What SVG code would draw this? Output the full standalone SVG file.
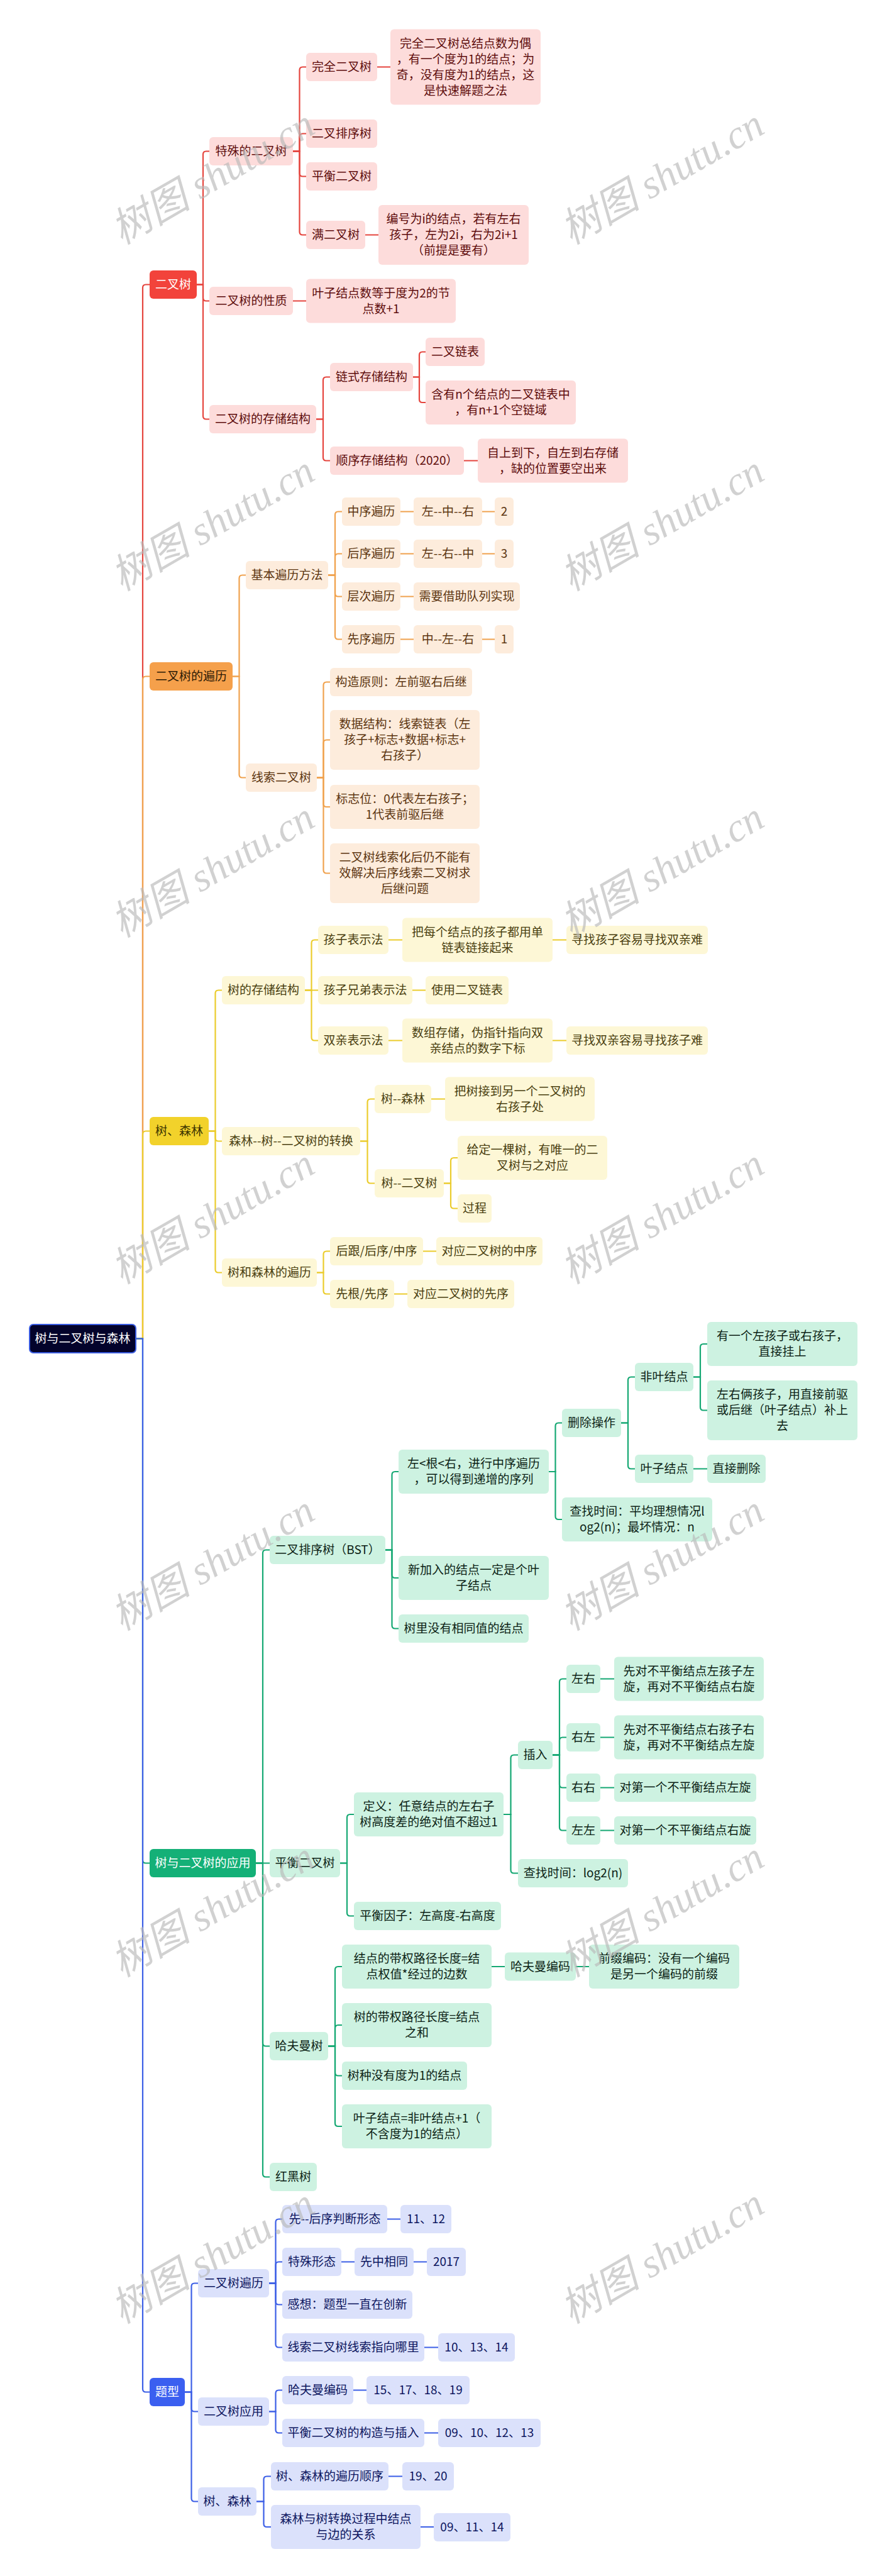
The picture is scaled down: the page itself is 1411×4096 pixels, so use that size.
<svg xmlns="http://www.w3.org/2000/svg" width="1411" height="4096" viewBox="0 0 1411 4096">
<style>
text{font-family:"Noto Sans CJK SC","Liberation Sans",sans-serif;font-size:19px;text-anchor:middle}
.c path{fill:none;stroke-width:2.2;stroke-linecap:round}
.cr path{stroke:#e5453e}.co path{stroke:#f0a24e}.cy path{stroke:#ebcc2c}.cg path{stroke:#15a873}.cb path{stroke:#3c5fe6}
.root rect{fill:#03032b;stroke:#3a5ce0;stroke-width:2}.root text{fill:#fff}
.r1 rect{fill:#f2433b}.r1 text{fill:#fff}
.r2 rect{fill:#fddcdb}.r2 text{fill:#5e0c0c}
.o1 rect{fill:#f5a04b}.o1 text{fill:#2b1a05}
.o2 rect{fill:#fdecdc}.o2 text{fill:#5c3510}
.y1 rect{fill:#f2d22b}.y1 text{fill:#3a3200}
.y2 rect{fill:#fdf7d6}.y2 text{fill:#4a4010}
.g1 rect{fill:#14b077}.g1 text{fill:#fff}
.g2 rect{fill:#cdf2e1}.g2 text{fill:#0c1f15}
.b1 rect{fill:#3b5ff0}.b1 text{fill:#fff}
.b2 rect{fill:#dbe1fb}.b2 text{fill:#0d1660}
.wm{font-family:"Liberation Serif","Noto Sans CJK SC",serif;font-style:italic;font-size:64px;fill:#b8b8b8;fill-opacity:0.65}
</style>
<rect width="1411" height="4096" fill="#fff"/>
<g id="connectors" class="c">
<g class="cr">
<path d="M216,2128.5H227V457.5Q227,452.5 232,452.5H238"/>
<path d="M313,452.5H323V245.5Q323,240.5 328,240.5H333"/>
<path d="M313,452.5H323V473.5Q323,478.5 328,478.5H333"/>
<path d="M313,452.5H323V661.5Q323,666.5 328,666.5H333"/>
<path d="M466,240.5H476.5V111.5Q476.5,106.5 481.5,106.5H487"/>
<path d="M466,240.5H476.5V217.5Q476.5,212.5 481.5,212.5H487"/>
<path d="M466,240.5H476.5V275.5Q476.5,280.5 481.5,280.5H487"/>
<path d="M466,240.5H476.5V368.5Q476.5,373.5 481.5,373.5H487"/>
<path d="M600,106.5H621"/>
<path d="M581,373.5H602"/>
<path d="M466,478.5H487"/>
<path d="M503,666.5H514V604.5Q514,599.5 519,599.5H525"/>
<path d="M503,666.5H514V727.5Q514,732.5 519,732.5H525"/>
<path d="M657,599.5H667V564.5Q667,559.5 672,559.5H677"/>
<path d="M657,599.5H667V635Q667,640 672,640H677"/>
<path d="M738,732.5H760"/>
</g>
<g class="co">
<path d="M216,2128.5H227V1080.5Q227,1075.5 232,1075.5H238"/>
<path d="M370,1075.5H380.5V919.5Q380.5,914.5 385.5,914.5H391"/>
<path d="M370,1075.5H380.5V1231.5Q380.5,1236.5 385.5,1236.5H391"/>
<path d="M522,914.5H533V818.5Q533,813.5 538,813.5H544"/>
<path d="M522,914.5H533V885.5Q533,880.5 538,880.5H544"/>
<path d="M522,914.5H533V943.5Q533,948.5 538,948.5H544"/>
<path d="M522,914.5H533V1011.5Q533,1016.5 538,1016.5H544"/>
<path d="M637,813.5H658M767,813.5H787"/>
<path d="M637,880.5H658M767,880.5H787"/>
<path d="M637,948.5H658"/>
<path d="M637,1016.5H658M767,1016.5H787"/>
<path d="M504,1236.5H514.5V1089.5Q514.5,1084.5 519.5,1084.5H525"/>
<path d="M504,1236.5H514.5V1181.5Q514.5,1176.5 519.5,1176.5H525"/>
<path d="M504,1236.5H514.5V1278Q514.5,1283 519.5,1283H525"/>
<path d="M504,1236.5H514.5V1383.5Q514.5,1388.5 519.5,1388.5H525"/>
</g>
<g class="cy">
<path d="M216,2128.5H227V1803.5Q227,1798.5 232,1798.5H238"/>
<path d="M332,1798.5H342.5V1579.5Q342.5,1574.5 347.5,1574.5H353"/>
<path d="M332,1798.5H342.5V1809.5Q342.5,1814.5 347.5,1814.5H353"/>
<path d="M332,1798.5H342.5V2018.5Q342.5,2023.5 347.5,2023.5H353"/>
<path d="M485,1574.5H495.5V1499.5Q495.5,1494.5 500.5,1494.5H506"/>
<path d="M485,1574.5H506"/>
<path d="M485,1574.5H495.5V1649.5Q495.5,1654.5 500.5,1654.5H506"/>
<path d="M618,1494.5H640M879,1494.5H901"/>
<path d="M656,1574.5H677"/>
<path d="M618,1654.5H640M879,1654.5H901"/>
<path d="M573,1814.5H584.5V1752.5Q584.5,1747.5 589.5,1747.5H596"/>
<path d="M573,1814.5H584.5V1876.5Q584.5,1881.5 589.5,1881.5H596"/>
<path d="M686,1747.5H708"/>
<path d="M706,1881.5H717V1846Q717,1841 722,1841H728"/>
<path d="M706,1881.5H717V1916.5Q717,1921.5 722,1921.5H728"/>
<path d="M504,2023.5H514.5V1994.5Q514.5,1989.5 519.5,1989.5H525"/>
<path d="M504,2023.5H514.5V2052.5Q514.5,2057.5 519.5,2057.5H525"/>
<path d="M673,1989.5H694"/>
<path d="M627,2057.5H648"/>
</g>
<g class="cg">
<path d="M216,2128.5H227V2957.5Q227,2962.5 232,2962.5H238"/>
<path d="M407,2962.5H418V2469.5Q418,2464.5 423,2464.5H429"/>
<path d="M407,2962.5H429"/>
<path d="M407,2962.5H418V3248.5Q418,3253.5 423,3253.5H429"/>
<path d="M407,2962.5H418V3456.5Q418,3461.5 423,3461.5H429"/>
<path d="M613,2464.5H623.5V2345Q623.5,2340 628.5,2340H634"/>
<path d="M613,2464.5H623.5V2504Q623.5,2509 628.5,2509H634"/>
<path d="M613,2464.5H623.5V2584.5Q623.5,2589.5 628.5,2589.5H634"/>
<path d="M873,2340H883.5V2267.5Q883.5,2262.5 888.5,2262.5H894"/>
<path d="M873,2340H883.5V2411Q883.5,2416 888.5,2416H894"/>
<path d="M988,2262.5H999V2194.5Q999,2189.5 1004,2189.5H1010"/>
<path d="M988,2262.5H999V2330.5Q999,2335.5 1004,2335.5H1010"/>
<path d="M1103,2189.5H1114V2142Q1114,2137 1119,2137H1125"/>
<path d="M1103,2189.5H1114V2237.5Q1114,2242.5 1119,2242.5H1125"/>
<path d="M1103,2335.5H1125"/>
<path d="M541,2962.5H552V2890Q552,2885 557,2885H563"/>
<path d="M541,2962.5H552V3041.5Q552,3046.5 557,3046.5H563"/>
<path d="M801,2885H812.5V2795.5Q812.5,2790.5 817.5,2790.5H824"/>
<path d="M801,2885H812.5V2973.5Q812.5,2978.5 817.5,2978.5H824"/>
<path d="M879,2790.5H890V2674.5Q890,2669.5 895,2669.5H901"/>
<path d="M879,2790.5H890V2767.5Q890,2762.5 895,2762.5H901"/>
<path d="M879,2790.5H890V2837.5Q890,2842.5 895,2842.5H901"/>
<path d="M879,2790.5H890V2905.5Q890,2910.5 895,2910.5H901"/>
<path d="M955,2669.5H977M955,2762.5H977M955,2842.5H977M955,2910.5H977"/>
<path d="M522,3253.5H533V3132Q533,3127 538,3127H544"/>
<path d="M522,3253.5H533V3225Q533,3220 538,3220H544"/>
<path d="M522,3253.5H533V3295.5Q533,3300.5 538,3300.5H544"/>
<path d="M522,3253.5H533V3376Q533,3381 538,3381H544"/>
<path d="M782,3127H803M916,3127H937"/>
</g>
<g class="cb">
<path d="M216,2128.5H227V3798.5Q227,3803.5 232,3803.5H238"/>
<path d="M294,3803.5H304.5V3635.5Q304.5,3630.5 309.5,3630.5H315"/>
<path d="M294,3803.5H304.5V3829.5Q304.5,3834.5 309.5,3834.5H315"/>
<path d="M294,3803.5H304.5V3972.5Q304.5,3977.5 309.5,3977.5H315"/>
<path d="M428,3630.5H438.5V3533.5Q438.5,3528.5 443.5,3528.5H449"/>
<path d="M428,3630.5H438.5V3601.5Q438.5,3596.5 443.5,3596.5H449"/>
<path d="M428,3630.5H438.5V3659.5Q438.5,3664.5 443.5,3664.5H449"/>
<path d="M428,3630.5H438.5V3727.5Q438.5,3732.5 443.5,3732.5H449"/>
<path d="M616,3528.5H637"/>
<path d="M543,3596.5H564M658,3596.5H679"/>
<path d="M675,3732.5H697"/>
<path d="M428,3834.5H438.5V3805.5Q438.5,3800.5 443.5,3800.5H449"/>
<path d="M428,3834.5H438.5V3863.5Q438.5,3868.5 443.5,3868.5H449"/>
<path d="M562,3800.5H583"/>
<path d="M675,3868.5H697"/>
<path d="M408,3977.5H419.5V3942.5Q419.5,3937.5 424.5,3937.5H431"/>
<path d="M408,3977.5H419.5V4013Q419.5,4018 424.5,4018H431"/>
<path d="M618,3937.5H640"/>
<path d="M669,4018H690"/>
</g>
</g>

<g id="root" class="root"><rect x="47" y="2106" width="169" height="45" rx="6"/><text x="131.5" y="2135">树与二叉树与森林</text></g>

<g id="n-bt" class="r1"><rect x="238" y="430" width="75" height="45" rx="6"/><text x="275.5" y="459">二叉树</text></g>
<g id="n-special" class="r2"><rect x="333" y="218" width="133" height="45" rx="6"/><text x="399.5" y="247">特殊的二叉树</text></g>
<g id="n-complete" class="r2"><rect x="487" y="84" width="113" height="45" rx="6"/><text x="543.5" y="113">完全二叉树</text></g>
<g id="n-complete-note" class="r2"><rect x="621" y="46.5" width="239" height="120" rx="6"/><text x="740.5"><tspan x="740.5" y="75.5">完全二叉树总结点数为偶</tspan><tspan x="740.5" y="100.5">，有一个度为1的结点；为</tspan><tspan x="740.5" y="125.5">奇，没有度为1的结点，这</tspan><tspan x="740.5" y="150.5">是快速解题之法</tspan></text></g>
<g id="n-bst0" class="r2"><rect x="487" y="190" width="113" height="45" rx="6"/><text x="543.5" y="219">二叉排序树</text></g>
<g id="n-avl0" class="r2"><rect x="487" y="258" width="113" height="45" rx="6"/><text x="543.5" y="287">平衡二叉树</text></g>
<g id="n-full" class="r2"><rect x="487" y="351" width="94" height="45" rx="6"/><text x="534" y="380">满二叉树</text></g>
<g id="n-full-note" class="r2"><rect x="602" y="326" width="239" height="95" rx="6"/><text x="721.5"><tspan x="721.5" y="355">编号为i的结点，若有左右</tspan><tspan x="721.5" y="380">孩子，左为2i，右为2i+1</tspan><tspan x="721.5" y="405">（前提是要有）</tspan></text></g>
<g id="n-prop" class="r2"><rect x="333" y="456" width="133" height="45" rx="6"/><text x="399.5" y="485">二叉树的性质</text></g>
<g id="n-prop-note" class="r2"><rect x="487" y="443.5" width="238" height="70" rx="6"/><text x="606"><tspan x="606" y="472.5">叶子结点数等于度为2的节</tspan><tspan x="606" y="497.5">点数+1</tspan></text></g>
<g id="n-store" class="r2"><rect x="333" y="644" width="170" height="45" rx="6"/><text x="418" y="673">二叉树的存储结构</text></g>
<g id="n-linked" class="r2"><rect x="525" y="577" width="132" height="45" rx="6"/><text x="591" y="606">链式存储结构</text></g>
<g id="n-bll" class="r2"><rect x="677" y="537" width="94" height="45" rx="6"/><text x="724" y="566">二叉链表</text></g>
<g id="n-nplus1" class="r2"><rect x="677" y="605" width="239" height="70" rx="6"/><text x="796.5"><tspan x="796.5" y="634">含有n个结点的二叉链表中</tspan><tspan x="796.5" y="659">，有n+1个空链域</tspan></text></g>
<g id="n-seq" class="r2"><rect x="525" y="710" width="213" height="45" rx="6"/><text x="631.5" y="739">顺序存储结构（2020）</text></g>
<g id="n-seq-note" class="r2"><rect x="760" y="697.5" width="239" height="70" rx="6"/><text x="879.5"><tspan x="879.5" y="726.5">自上到下，自左到右存储</tspan><tspan x="879.5" y="751.5">，缺的位置要空出来</tspan></text></g>

<g id="n-trav" class="o1"><rect x="238" y="1053" width="132" height="45" rx="6"/><text x="304" y="1082">二叉树的遍历</text></g>
<g id="n-basic" class="o2"><rect x="391" y="892" width="131" height="45" rx="6"/><text x="456.5" y="921">基本遍历方法</text></g>
<g id="n-in" class="o2"><rect x="544" y="791" width="93" height="45" rx="6"/><text x="590.5" y="820">中序遍历</text></g>
<g id="n-in-o" class="o2"><rect x="658" y="791" width="109" height="45" rx="6"/><text x="712.5" y="820">左--中--右</text></g>
<g id="n-in-n" class="o2"><rect x="787" y="791" width="30" height="45" rx="6"/><text x="802" y="820">2</text></g>
<g id="n-post" class="o2"><rect x="544" y="858" width="93" height="45" rx="6"/><text x="590.5" y="887">后序遍历</text></g>
<g id="n-post-o" class="o2"><rect x="658" y="858" width="109" height="45" rx="6"/><text x="712.5" y="887">左--右--中</text></g>
<g id="n-post-n" class="o2"><rect x="787" y="858" width="30" height="45" rx="6"/><text x="802" y="887">3</text></g>
<g id="n-level" class="o2"><rect x="544" y="926" width="93" height="45" rx="6"/><text x="590.5" y="955">层次遍历</text></g>
<g id="n-level-o" class="o2"><rect x="658" y="926" width="169" height="45" rx="6"/><text x="742.5" y="955">需要借助队列实现</text></g>
<g id="n-pre" class="o2"><rect x="544" y="994" width="93" height="45" rx="6"/><text x="590.5" y="1023">先序遍历</text></g>
<g id="n-pre-o" class="o2"><rect x="658" y="994" width="109" height="45" rx="6"/><text x="712.5" y="1023">中--左--右</text></g>
<g id="n-pre-n" class="o2"><rect x="787" y="994" width="30" height="45" rx="6"/><text x="802" y="1023">1</text></g>
<g id="n-thread" class="o2"><rect x="391" y="1214" width="113" height="45" rx="6"/><text x="447.5" y="1243">线索二叉树</text></g>
<g id="n-th1" class="o2"><rect x="525" y="1062" width="226" height="45" rx="6"/><text x="638" y="1091">构造原则：左前驱右后继</text></g>
<g id="n-th2" class="o2"><rect x="525" y="1129" width="238" height="95" rx="6"/><text x="644"><tspan x="644" y="1158">数据结构：线索链表（左</tspan><tspan x="644" y="1183">孩子+标志+数据+标志+</tspan><tspan x="644" y="1208">右孩子）</tspan></text></g>
<g id="n-th3" class="o2"><rect x="525" y="1248" width="238" height="70" rx="6"/><text x="644"><tspan x="644" y="1277">标志位：0代表左右孩子；</tspan><tspan x="644" y="1302">1代表前驱后继</tspan></text></g>
<g id="n-th4" class="o2"><rect x="525" y="1341" width="238" height="95" rx="6"/><text x="644"><tspan x="644" y="1370">二叉树线索化后仍不能有</tspan><tspan x="644" y="1395">效解决后序线索二叉树求</tspan><tspan x="644" y="1420">后继问题</tspan></text></g>

<g id="n-forest" class="y1"><rect x="238" y="1776" width="94" height="45" rx="6"/><text x="285" y="1805">树、森林</text></g>
<g id="n-tstore" class="y2"><rect x="353" y="1552" width="132" height="45" rx="6"/><text x="419" y="1581">树的存储结构</text></g>
<g id="n-child" class="y2"><rect x="506" y="1472" width="112" height="45" rx="6"/><text x="562" y="1501">孩子表示法</text></g>
<g id="n-child-d" class="y2"><rect x="640" y="1459.5" width="239" height="70" rx="6"/><text x="759.5"><tspan x="759.5" y="1488.5">把每个结点的孩子都用单</tspan><tspan x="759.5" y="1513.5">链表链接起来</tspan></text></g>
<g id="n-child-e" class="y2"><rect x="901" y="1472" width="225" height="45" rx="6"/><text x="1013.5" y="1501">寻找孩子容易寻找双亲难</text></g>
<g id="n-cs" class="y2"><rect x="506" y="1552" width="150" height="45" rx="6"/><text x="581" y="1581">孩子兄弟表示法</text></g>
<g id="n-cs-d" class="y2"><rect x="677" y="1552" width="132" height="45" rx="6"/><text x="743" y="1581">使用二叉链表</text></g>
<g id="n-par" class="y2"><rect x="506" y="1632" width="112" height="45" rx="6"/><text x="562" y="1661">双亲表示法</text></g>
<g id="n-par-d" class="y2"><rect x="640" y="1619.5" width="239" height="70" rx="6"/><text x="759.5"><tspan x="759.5" y="1648.5">数组存储，伪指针指向双</tspan><tspan x="759.5" y="1673.5">亲结点的数字下标</tspan></text></g>
<g id="n-par-e" class="y2"><rect x="901" y="1632" width="225" height="45" rx="6"/><text x="1013.5" y="1661">寻找双亲容易寻找孩子难</text></g>
<g id="n-conv" class="y2"><rect x="353" y="1792" width="220" height="45" rx="6"/><text x="463" y="1821">森林--树--二叉树的转换</text></g>
<g id="n-t2f" class="y2"><rect x="596" y="1725" width="90" height="45" rx="6"/><text x="641" y="1754">树--森林</text></g>
<g id="n-t2f-d" class="y2"><rect x="708" y="1712.5" width="238" height="70" rx="6"/><text x="827"><tspan x="827" y="1741.5">把树接到另一个二叉树的</tspan><tspan x="827" y="1766.5">右孩子处</tspan></text></g>
<g id="n-t2b" class="y2"><rect x="596" y="1859" width="110" height="45" rx="6"/><text x="651" y="1888">树--二叉树</text></g>
<g id="n-t2b-d" class="y2"><rect x="728" y="1806" width="238" height="70" rx="6"/><text x="847"><tspan x="847" y="1835">给定一棵树，有唯一的二</tspan><tspan x="847" y="1860">叉树与之对应</tspan></text></g>
<g id="n-t2b-p" class="y2"><rect x="728" y="1899" width="54" height="45" rx="6"/><text x="755" y="1928">过程</text></g>
<g id="n-ftrav" class="y2"><rect x="353" y="2001" width="151" height="45" rx="6"/><text x="428.5" y="2030">树和森林的遍历</text></g>
<g id="n-ft1" class="y2"><rect x="525" y="1967" width="148" height="45" rx="6"/><text x="599" y="1996">后跟/后序/中序</text></g>
<g id="n-ft1-d" class="y2"><rect x="694" y="1967" width="169" height="45" rx="6"/><text x="778.5" y="1996">对应二叉树的中序</text></g>
<g id="n-ft2" class="y2"><rect x="525" y="2035" width="102" height="45" rx="6"/><text x="576" y="2064">先根/先序</text></g>
<g id="n-ft2-d" class="y2"><rect x="648" y="2035" width="170" height="45" rx="6"/><text x="733" y="2064">对应二叉树的先序</text></g>

<g id="n-app" class="g1"><rect x="238" y="2940" width="169" height="45" rx="6"/><text x="322.5" y="2969">树与二叉树的应用</text></g>
<g id="n-bst" class="g2"><rect x="429" y="2442" width="184" height="45" rx="6"/><text x="521" y="2471">二叉排序树（BST）</text></g>
<g id="n-bst1" class="g2"><rect x="634" y="2305" width="239" height="70" rx="6"/><text x="753.5"><tspan x="753.5" y="2334">左&lt;根&lt;右，进行中序遍历</tspan><tspan x="753.5" y="2359">，可以得到递增的序列</tspan></text></g>
<g id="n-del" class="g2"><rect x="894" y="2240" width="94" height="45" rx="6"/><text x="941" y="2269">删除操作</text></g>
<g id="n-nonleaf" class="g2"><rect x="1010" y="2167" width="93" height="45" rx="6"/><text x="1056.5" y="2196">非叶结点</text></g>
<g id="n-nl1" class="g2"><rect x="1125" y="2102" width="239" height="70" rx="6"/><text x="1244.5"><tspan x="1244.5" y="2131">有一个左孩子或右孩子，</tspan><tspan x="1244.5" y="2156">直接挂上</tspan></text></g>
<g id="n-nl2" class="g2"><rect x="1125" y="2195" width="239" height="95" rx="6"/><text x="1244.5"><tspan x="1244.5" y="2224">左右俩孩子，用直接前驱</tspan><tspan x="1244.5" y="2249">或后继（叶子结点）补上</tspan><tspan x="1244.5" y="2274">去</tspan></text></g>
<g id="n-leaf" class="g2"><rect x="1010" y="2313" width="93" height="45" rx="6"/><text x="1056.5" y="2342">叶子结点</text></g>
<g id="n-leaf1" class="g2"><rect x="1125" y="2313" width="93" height="45" rx="6"/><text x="1171.5" y="2342">直接删除</text></g>
<g id="n-find" class="g2"><rect x="894" y="2381" width="239" height="70" rx="6"/><text x="1013.5"><tspan x="1013.5" y="2410">查找时间：平均理想情况l</tspan><tspan x="1013.5" y="2435">og2(n)；最坏情况：n</tspan></text></g>
<g id="n-bst2" class="g2"><rect x="634" y="2474" width="239" height="70" rx="6"/><text x="753.5"><tspan x="753.5" y="2503">新加入的结点一定是个叶</tspan><tspan x="753.5" y="2528">子结点</tspan></text></g>
<g id="n-bst3" class="g2"><rect x="634" y="2567" width="207" height="45" rx="6"/><text x="737.5" y="2596">树里没有相同值的结点</text></g>
<g id="n-avl" class="g2"><rect x="429" y="2940" width="112" height="45" rx="6"/><text x="485" y="2969">平衡二叉树</text></g>
<g id="n-avl-def" class="g2"><rect x="563" y="2850" width="238" height="70" rx="6"/><text x="682"><tspan x="682" y="2879">定义：任意结点的左右子</tspan><tspan x="682" y="2904">树高度差的绝对值不超过1</tspan></text></g>
<g id="n-ins" class="g2"><rect x="824" y="2768" width="55" height="45" rx="6"/><text x="851.5" y="2797">插入</text></g>
<g id="n-lr" class="g2"><rect x="901" y="2647" width="54" height="45" rx="6"/><text x="928" y="2676">左右</text></g>
<g id="n-lr-d" class="g2"><rect x="977" y="2634.5" width="238" height="70" rx="6"/><text x="1096"><tspan x="1096" y="2663.5">先对不平衡结点左孩子左</tspan><tspan x="1096" y="2688.5">旋，再对不平衡结点右旋</tspan></text></g>
<g id="n-rl" class="g2"><rect x="901" y="2740" width="54" height="45" rx="6"/><text x="928" y="2769">右左</text></g>
<g id="n-rl-d" class="g2"><rect x="977" y="2727.5" width="238" height="70" rx="6"/><text x="1096"><tspan x="1096" y="2756.5">先对不平衡结点右孩子右</tspan><tspan x="1096" y="2781.5">旋，再对不平衡结点左旋</tspan></text></g>
<g id="n-rr" class="g2"><rect x="901" y="2820" width="54" height="45" rx="6"/><text x="928" y="2849">右右</text></g>
<g id="n-rr-d" class="g2"><rect x="977" y="2820" width="226" height="45" rx="6"/><text x="1090" y="2849">对第一个不平衡结点左旋</text></g>
<g id="n-ll" class="g2"><rect x="901" y="2888" width="54" height="45" rx="6"/><text x="928" y="2917">左左</text></g>
<g id="n-ll-d" class="g2"><rect x="977" y="2888" width="226" height="45" rx="6"/><text x="1090" y="2917">对第一个不平衡结点右旋</text></g>
<g id="n-avl-find" class="g2"><rect x="824" y="2956" width="175" height="45" rx="6"/><text x="911.5" y="2985">查找时间：log2(n)</text></g>
<g id="n-avl-bf" class="g2"><rect x="563" y="3024" width="234" height="45" rx="6"/><text x="680" y="3053">平衡因子：左高度-右高度</text></g>
<g id="n-huff" class="g2"><rect x="429" y="3231" width="93" height="45" rx="6"/><text x="475.5" y="3260">哈夫曼树</text></g>
<g id="n-h1" class="g2"><rect x="544" y="3092" width="238" height="70" rx="6"/><text x="663"><tspan x="663" y="3121">结点的带权路径长度=结</tspan><tspan x="663" y="3146">点权值*经过的边数</tspan></text></g>
<g id="n-hcode" class="g2"><rect x="803" y="3104.5" width="113" height="45" rx="6"/><text x="859.5" y="3133.5">哈夫曼编码</text></g>
<g id="n-hcode-d" class="g2"><rect x="937" y="3092" width="239" height="70" rx="6"/><text x="1056.5"><tspan x="1056.5" y="3121">前缀编码：没有一个编码</tspan><tspan x="1056.5" y="3146">是另一个编码的前缀</tspan></text></g>
<g id="n-h2" class="g2"><rect x="544" y="3185" width="238" height="70" rx="6"/><text x="663"><tspan x="663" y="3214">树的带权路径长度=结点</tspan><tspan x="663" y="3239">之和</tspan></text></g>
<g id="n-h3" class="g2"><rect x="544" y="3278" width="199" height="45" rx="6"/><text x="643.5" y="3307">树种没有度为1的结点</text></g>
<g id="n-h4" class="g2"><rect x="544" y="3346" width="238" height="70" rx="6"/><text x="663"><tspan x="663" y="3375">叶子结点=非叶结点+1（</tspan><tspan x="663" y="3400">不含度为1的结点）</tspan></text></g>
<g id="n-rb" class="g2"><rect x="429" y="3439" width="75" height="45" rx="6"/><text x="466.5" y="3468">红黑树</text></g>

<g id="n-q" class="b1"><rect x="238" y="3781" width="56" height="45" rx="6"/><text x="266" y="3810">题型</text></g>
<g id="n-q1" class="b2"><rect x="315" y="3608" width="113" height="45" rx="6"/><text x="371.5" y="3637">二叉树遍历</text></g>
<g id="n-q11" class="b2"><rect x="449" y="3506" width="167" height="45" rx="6"/><text x="532.5" y="3535">先--后序判断形态</text></g>
<g id="n-q11n" class="b2"><rect x="637" y="3506" width="81" height="45" rx="6"/><text x="677.5" y="3535">11、12</text></g>
<g id="n-q12" class="b2"><rect x="449" y="3574" width="94" height="45" rx="6"/><text x="496" y="3603">特殊形态</text></g>
<g id="n-q12a" class="b2"><rect x="564" y="3574" width="94" height="45" rx="6"/><text x="611" y="3603">先中相同</text></g>
<g id="n-q12n" class="b2"><rect x="679" y="3574" width="62" height="45" rx="6"/><text x="710" y="3603">2017</text></g>
<g id="n-q13" class="b2"><rect x="449" y="3642" width="207" height="45" rx="6"/><text x="552.5" y="3671">感想：题型一直在创新</text></g>
<g id="n-q14" class="b2"><rect x="449" y="3710" width="226" height="45" rx="6"/><text x="562" y="3739">线索二叉树线索指向哪里</text></g>
<g id="n-q14n" class="b2"><rect x="697" y="3710" width="122" height="45" rx="6"/><text x="758" y="3739">10、13、14</text></g>
<g id="n-q2" class="b2"><rect x="315" y="3812" width="113" height="45" rx="6"/><text x="371.5" y="3841">二叉树应用</text></g>
<g id="n-q21" class="b2"><rect x="449" y="3778" width="113" height="45" rx="6"/><text x="505.5" y="3807">哈夫曼编码</text></g>
<g id="n-q21n" class="b2"><rect x="583" y="3778" width="164" height="45" rx="6"/><text x="665" y="3807">15、17、18、19</text></g>
<g id="n-q22" class="b2"><rect x="449" y="3846" width="226" height="45" rx="6"/><text x="562" y="3875">平衡二叉树的构造与插入</text></g>
<g id="n-q22n" class="b2"><rect x="697" y="3846" width="163" height="45" rx="6"/><text x="778.5" y="3875">09、10、12、13</text></g>
<g id="n-q3" class="b2"><rect x="315" y="3955" width="93" height="45" rx="6"/><text x="361.5" y="3984">树、森林</text></g>
<g id="n-q31" class="b2"><rect x="431" y="3915" width="187" height="45" rx="6"/><text x="524.5" y="3944">树、森林的遍历顺序</text></g>
<g id="n-q31n" class="b2"><rect x="640" y="3915" width="82" height="45" rx="6"/><text x="681" y="3944">19、20</text></g>
<g id="n-q32" class="b2"><rect x="431" y="3983" width="238" height="70" rx="6"/><text x="550"><tspan x="550" y="4012">森林与树转换过程中结点</tspan><tspan x="550" y="4037">与边的关系</tspan></text></g>
<g id="n-q32n" class="b2"><rect x="690" y="3996" width="122" height="45" rx="6"/><text x="751" y="4025">09、11、14</text></g>

<g id="watermarks">
<text class="wm" transform="translate(349,300) rotate(-30)">树图 shutu.cn</text>
<text class="wm" transform="translate(1064,300) rotate(-30)">树图 shutu.cn</text>
<text class="wm" transform="translate(349,851) rotate(-30)">树图 shutu.cn</text>
<text class="wm" transform="translate(1064,851) rotate(-30)">树图 shutu.cn</text>
<text class="wm" transform="translate(349,1402) rotate(-30)">树图 shutu.cn</text>
<text class="wm" transform="translate(1064,1402) rotate(-30)">树图 shutu.cn</text>
<text class="wm" transform="translate(349,1953) rotate(-30)">树图 shutu.cn</text>
<text class="wm" transform="translate(1064,1953) rotate(-30)">树图 shutu.cn</text>
<text class="wm" transform="translate(349,2504) rotate(-30)">树图 shutu.cn</text>
<text class="wm" transform="translate(1064,2504) rotate(-30)">树图 shutu.cn</text>
<text class="wm" transform="translate(349,3055) rotate(-30)">树图 shutu.cn</text>
<text class="wm" transform="translate(1064,3055) rotate(-30)">树图 shutu.cn</text>
<text class="wm" transform="translate(349,3606) rotate(-30)">树图 shutu.cn</text>
<text class="wm" transform="translate(1064,3606) rotate(-30)">树图 shutu.cn</text>
</g>
</svg>
